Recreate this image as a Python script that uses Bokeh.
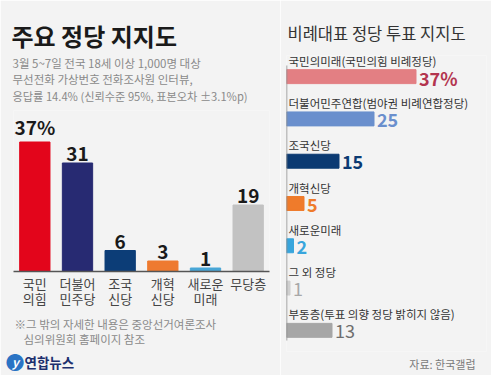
from bokeh.plotting import figure
from bokeh.layouts import row
from bokeh.models import FactorRange, Range1d, ColumnDataSource
from bokeh.core.properties import value, field
from bokeh.embed import file_html
from bokeh.resources import INLINE

KR = "Noto Sans CJK KR"
BG = "#f3f3f3"

# ---- data: left chart (주요 정당 지지도) ----
parties = ["국민의힘", "더불어민주당", "조국신당", "개혁신당", "새로운미래", "무당층"]
party_line1 = ["국민", "더불어", "조국", "개혁", "새로운", "무당층"]
party_line2 = ["의힘", "민주당", "신당", "신당", "미래", ""]
support = [37, 31, 6, 3, 1, 19]
support_text = ["37%", "31", "6", "3", "1", "19"]
support_colors = ["#e3051b", "#272a72", "#0c3d77", "#ee7a30", "#48a6d6", "#c2c2c2"]

# ---- data: right chart (비례대표 정당 투표 지지도) ----
pr_parties = ["국민의미래(국민의힘 비례정당)", "더불어민주연합(범야권 비례연합정당)", "조국신당",
              "개혁신당", "새로운미래", "그 외 정당", "부동층(투표 의향 정당 밝히지 않음)"]
pr_support = [37, 25, 15, 5, 2, 1, 13]
pr_text = ["37%", "25", "15", "5", "2", "1", "13"]
pr_bar_colors = ["#e37f83", "#6a8fcd", "#0b3a72", "#ef7b2b", "#38a5dc", "#cfcfcf", "#a6a6a6"]
pr_text_colors = ["#b3354f", "#6a8fcd", "#0b3a72", "#ef7b2b", "#38a5dc", "#a8a8a8", "#6e6e6e"]
pr_text_weight = ["bold", "bold", "bold", "bold", "bold", "normal", "normal"]


def free_text(p, x, y, text, size, color, style="normal", align="left", baseline="middle"):
    p.text(x=[x], y=[y], text=[text], text_font=value(KR), text_font_size=f"{size}px",
           text_color=color, text_font_style=style, text_align=align,
           text_baseline=baseline, level="overlay")


# ================= left figure =================
LW, LH = 280, 375
L1, T1, R1, B1b = 13, 110, 11, 104
PX_PER_UNIT = 3.5
FB = LH - B1b                         # frame bottom (canvas px)
CAT_PX = (LW - L1 - R1) / len(parties)
left = figure(width=LW, height=LH, x_range=FactorRange(*parties, range_padding=0),
              y_range=Range1d(0, (LH - T1 - B1b) / PX_PER_UNIT), output_backend="svg",
              toolbar_location=None, y_axis_location=None, min_border_left=L1,
              min_border_right=R1, min_border_top=T1, min_border_bottom=B1b)
left.frame_align = False
left.background_fill_color = BG
left.border_fill_color = BG
left.outline_line_color = None
left.grid.visible = False


def lpos(X, Y):
    return (X - L1) / CAT_PX, (FB - Y) / PX_PER_UNIT


src1 = ColumnDataSource(dict(x=parties, y=support, t=support_text, c=support_colors,
                             l1=party_line1, l2=party_line2, zero=[0] * len(parties)))
left.vbar(x="x", top="y", width=0.71, color="c", source=src1)
left.text(x="x", y="y", text="t", source=src1, text_font=value(KR), text_font_size="19px",
          text_font_style="bold", text_color="#1a1a1a", text_align="center",
          text_baseline="bottom", y_offset=-2, level="overlay")
left.text(x="x", y="zero", text="l1", source=src1, text_font=value(KR), text_font_size="13px",
          text_color="#444444", text_align="center", text_baseline="middle",
          y_offset=12, level="overlay")
left.text(x="x", y="zero", text="l2", source=src1, text_font=value(KR), text_font_size="13px",
          text_color="#444444", text_align="center", text_baseline="middle",
          y_offset=27, level="overlay")

ax = left.xaxis[0]
ax.axis_line_color = "#555555"
ax.axis_line_width = 1.5
ax.major_tick_line_color = None
ax.minor_tick_line_color = None
ax.major_label_text_font_size = "0px"
ax.major_label_text_color = None

free_text(left, *lpos(11, 35), "주요 정당 지지도", 24, "#1a1a1a", "bold")
free_text(left, *lpos(12, 62), "3월 5~7일 전국 18세 이상 1,000명 대상", 11.5, "#8a8a8a")
free_text(left, *lpos(12, 78.5), "무선전화 가상번호 전화조사원 인터뷰,", 11.5, "#8a8a8a")
free_text(left, *lpos(12, 95), "응답률 14.4% (신뢰수준 95%, 표본오차 ±3.1%p)", 11.2, "#8a8a8a")
free_text(left, *lpos(14, 323), "※그 밖의 자세한 내용은 중앙선거여론조사", 11.5, "#8a8a8a")
free_text(left, *lpos(23, 338), "심의위원회 홈페이지 참조", 11.5, "#8a8a8a")
free_text(left, *lpos(5, 361), "●", 19, "#2a73c4")
free_text(left, *lpos(15, 361), "y", 12, "#ffffff", "bold italic", "center")
free_text(left, *lpos(24, 361), "연합뉴스", 13.5, "#1c2f6e", "bold")

# ================= right figure =================
RW, RH = 211, 375
L2, T2, R2, B2b = 6, 55, 5, 24
FB2 = RH - B2b
ROW_PX = (RH - T2 - B2b) / len(pr_parties)
right = figure(width=RW, height=RH, y_range=FactorRange(*pr_parties[::-1], range_padding=0),
               x_range=Range1d(0, (RW - L2 - R2) / PX_PER_UNIT), output_backend="svg",
               toolbar_location=None, x_axis_location=None, y_axis_location=None,
               min_border_left=L2, min_border_right=R2, min_border_top=T2,
               min_border_bottom=B2b)
right.frame_align = False
right.background_fill_color = BG
right.border_fill_color = BG
right.outline_line_color = None
right.grid.visible = False


def rpos(X, Y):
    return (X - 280 - L2) / PX_PER_UNIT, (FB2 - Y) / ROW_PX


src2 = ColumnDataSource(dict(y=pr_parties, x=pr_support, t=pr_text, bc=pr_bar_colors,
                             tc=pr_text_colors, w=pr_text_weight, zero=[0] * len(pr_parties)))
right.hbar(y="y", right="x", left=0, height=0.33, color="bc", source=src2)
(x0, y0), (x1, y1) = rpos(286, 65), rpos(286, 340)
right.segment(x0=[x0], y0=[y0], x1=[x1], y1=[y1], line_color="#8a8a8a", line_width=1.5)
right.text(x="x", y="y", text="t", source=src2, text_font=value(KR), text_font_size="18px",
           text_font_style=field("w"), text_color="tc", text_align="left", text_baseline="middle",
           x_offset=3, y_offset=1, level="overlay")
right.text(x="zero", y="y", text="y", source=src2, text_font=value(KR), text_font_size="11.5px",
           text_color="#333333", text_align="left", text_baseline="middle",
           x_offset=2, y_offset=-16, level="overlay")

free_text(right, *rpos(287, 33), "비례대표 정당 투표 지지도", 16.5, "#333333")
free_text(right, *rpos(475, 363), "자료: 한국갤럽", 11, "#7a7a7a", "normal", "right")

layout = row(left, right, spacing=0)
open("out.html", "w").write(file_html(layout, INLINE))
